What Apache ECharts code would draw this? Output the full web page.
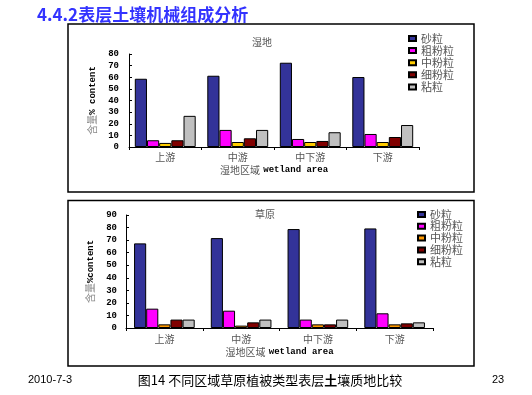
<!DOCTYPE html>
<html><head><meta charset="utf-8">
<script src="https://cdn.jsdelivr.net/npm/echarts@6/dist/echarts.min.js"></script>
<style>html,body{margin:0;padding:0;background:#fff}#c{width:532px;height:395px}</style>
</head><body><div id="c"></div>
<script>
const categories = ['上游', '中游', '中下游', '下游'];
const seriesNames = ['砂粒', '粗粉粒', '中粉粒', '细粉粒', '粘粒'];
// 湿地 (wetland)
const wetSand = [58.7, 61.3, 72.5, 60.2];
const wetCoarseSilt = [5.8, 14.7, 6.9, 11.2];
const wetMidSilt = [3.5, 4.3, 4.3, 4.3];
const wetFineSilt = [5.8, 7.5, 5.2, 8.6];
const wetClay = [26.8, 14.7, 12.7, 18.9];
// 草原 (grassland)
const grsSand = [67.4, 71.6, 78.8, 79.3];
const grsCoarseSilt = [15.4, 13.8, 6.7, 11.7];
const grsMidSilt = [2.9, 1.9, 2.9, 2.9];
const grsFineSilt = [6.7, 4.5, 2.9, 3.7];
const grsClay = [6.7, 6.7, 6.7, 4.5];
const wetTicks = [0, 80, 10];
const grsTicks = [0, 90, 10];

const colors1 = ['#333399', '#ff00ff', '#ffcc00', '#800000', '#c0c0c0'];
const colors2 = ['#333399', '#ff00ff', '#ff9900', '#800000', '#c0c0c0'];
const wetData = [wetSand, wetCoarseSilt, wetMidSilt, wetFineSilt, wetClay];
const grsData = [grsSand, grsCoarseSilt, grsMidSilt, grsFineSilt, grsClay];
const names2 = seriesNames.map(n => n + ' ');

const cjk = '"Noto Sans CJK SC", sans-serif';
const mono = '"Liberation Mono", "DejaVu Sans Mono", monospace';

function xAxis(gi, gap, margin) {
  return {
    type: 'category', gridIndex: gi, data: categories,
    axisLine: { lineStyle: { color: '#000', width: 1 } },
    axisTick: { show: true, length: 3, lineStyle: { color: '#000' } },
    axisLabel: { margin: margin, fontFamily: cjk, fontSize: 10, color: '#555' },
    name: '{a|湿地区域} {b|wetland area}', nameLocation: 'middle', nameGap: gap,
    nameTextStyle: { rich: {
      a: { fontFamily: cjk, fontSize: 10, color: '#555' },
      b: { fontFamily: mono, fontSize: 9, fontWeight: 'bold', color: '#000' } } }
  };
}
function yAxis(gi, t, nm, margin) {
  return {
    type: 'value', gridIndex: gi, min: t[0], max: t[1], interval: t[2],
    splitLine: { show: false },
    axisLine: { show: true, lineStyle: { color: '#000', width: 1 } },
    axisTick: { show: true, inside: true, length: 3, lineStyle: { color: '#000' } },
    axisLabel: { margin: margin, fontFamily: mono, fontSize: 9, fontWeight: 'bold', color: '#000' },
    name: nm, nameLocation: 'middle', nameRotate: 90, nameGap: 30,
    nameTextStyle: { rich: {
      a: { fontFamily: cjk, fontSize: 10, color: '#888' },
      b: { fontFamily: mono, fontSize: 9, fontWeight: 'bold', color: '#000' } } }
  };
}
function mk(names, data, colors, gi, gapPct) {
  return names.map((n, i) => ({
    type: 'bar', name: n, data: data[i], xAxisIndex: gi, yAxisIndex: gi,
    barGap: 0, barCategoryGap: gapPct,
    itemStyle: { color: colors[i], borderColor: '#000', borderWidth: 1 }
  }));
}
const legendText = { fontFamily: cjk, fontSize: 11, color: '#555', lineHeight: 10 };

const chart = echarts.init(document.getElementById('c'), null, { renderer: 'canvas' });
chart.setOption({
  animation: false,
  grid: [
    { left: 129, right: 113, top: 54, bottom: 248 },
    { left: 126, right: 99, top: 215, bottom: 67 }
  ],
  xAxis: [xAxis(0, 17, 5), xAxis(1, 18, 6)],
  yAxis: [yAxis(0, wetTicks, '{a|含量}{b|% content}', 10), yAxis(1, grsTicks, '{a|含量}{b|%content}', 9)],
  legend: [
    { data: seriesNames, orient: 'vertical', left: 403, top: 28, itemWidth: 7, itemHeight: 5,
      itemGap: 1.1, icon: 'rect', textStyle: legendText, formatter: n => n.trim() },
    { data: names2, orient: 'vertical', left: 412, top: 204, itemWidth: 7, itemHeight: 5,
      itemGap: 0.8, icon: 'rect', textStyle: legendText, formatter: n => n.trim() }
  ],
  series: [].concat(mk(seriesNames, wetData, colors1, 0, '16%'), mk(names2, grsData, colors2, 1, '21%')),
  graphic: [
    { type: 'rect', shape: { x: 68, y: 24, width: 406, height: 168 }, style: { fill: 'none', stroke: '#000', lineWidth: 1.5 }, z: -1 },
    { type: 'rect', shape: { x: 68, y: 200.5, width: 406, height: 165.5 }, style: { fill: 'none', stroke: '#000', lineWidth: 1.5 }, z: -1 },
    { type: 'text', left: 37, top: 6, style: { text: '4.4.2表层土壤机械组成分析', fill: '#3333ff', font: 'bold 17px "Noto Sans CJK SC", sans-serif' } },
    { type: 'text', x: 262, y: 42, style: { text: '湿地', fill: '#555', font: '10px "Noto Sans CJK SC", sans-serif', textAlign: 'center', textVerticalAlign: 'middle' } },
    { type: 'text', x: 265, y: 214, style: { text: '草原', fill: '#555', font: '10px "Noto Sans CJK SC", sans-serif', textAlign: 'center', textVerticalAlign: 'middle' } },
    { type: 'text', x: 28, y: 380, style: { text: '2010-7-3', fill: '#000', font: '11px "Liberation Sans", Arial, sans-serif', textVerticalAlign: 'middle' } },
    { type: 'text', x: 270, y: 380, style: { text: '图14 不同区域草原植被类型表层{b|土}壤质地比较', fill: '#000', font: '13px "Noto Sans CJK SC", sans-serif', textAlign: 'center', textVerticalAlign: 'middle',
      rich: { b: { fontWeight: 'bold', fontSize: 13, fontFamily: cjk } } } },
    { type: 'text', x: 492, y: 380, style: { text: '23', fill: '#000', font: '11px "Liberation Sans", Arial, sans-serif', textVerticalAlign: 'middle' } }
  ]
});
</script></body></html>
